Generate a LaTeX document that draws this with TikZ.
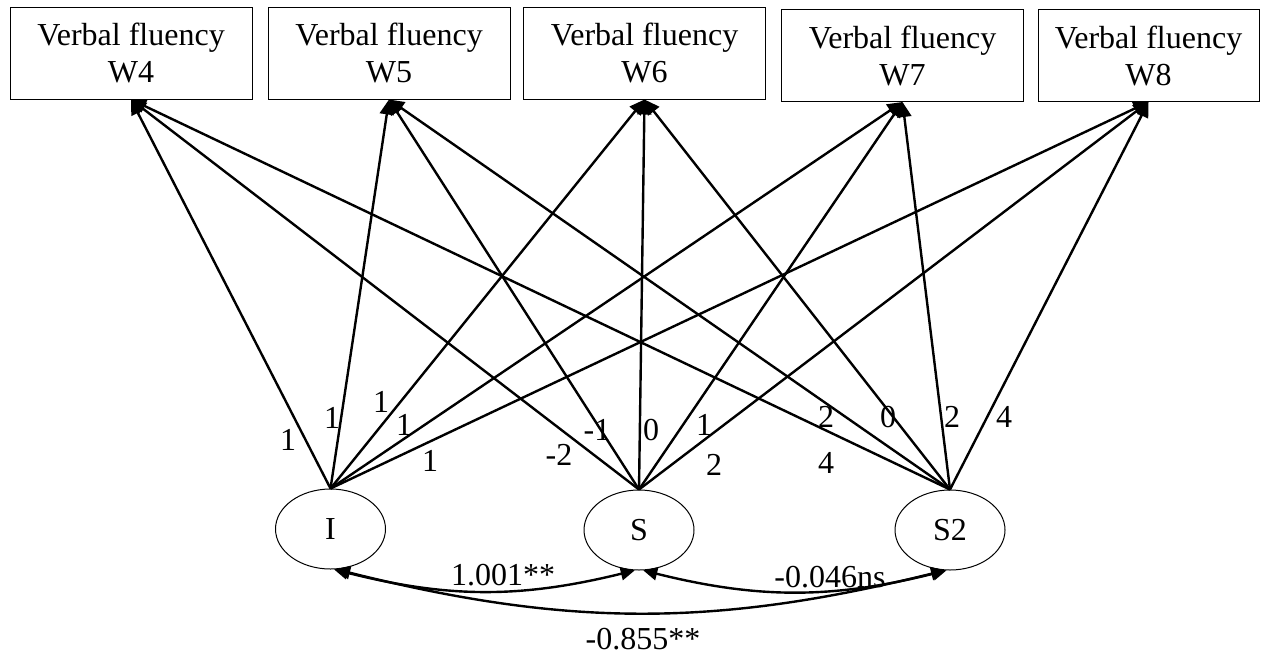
\documentclass[tikz,border=0pt]{standalone}
\usepackage{fontspec}
\setmainfont{Liberation Serif}
\usetikzlibrary{arrows.meta, shapes.geometric}

\tikzset{
	txt/.style={font=\fontsize{16}{18.5}\selectfont},
	obs/.style={txt, draw, line width=0.5pt, minimum width=121pt, minimum height=46pt, inner sep=0pt, align=center},
	lat/.style={txt, draw, ellipse, line width=0.5pt, minimum width=55pt, minimum height=40pt, inner sep=0pt},
	load/.style={line width=1.2pt, -{Triangle[length=7.5pt,width=7pt]}},
	cov/.style={line width=1.2pt, {Triangle[length=7pt,width=6.5pt]}-{Triangle[length=7pt,width=6.5pt]}},
	lbl/.style={txt, inner sep=0pt}
}

\begin{document}
\begin{tikzpicture}[x=0.5pt, y=-0.5pt]
			\useasboundingbox (0,0) rectangle (1267,654);
			% observed waves
			\node[obs] (W4) at (131,53) {Verbal fluency\\W4};
			\node[obs] (W5) at (389,53) {Verbal fluency\\W5};
			\node[obs] (W6) at (644.5,53) {Verbal fluency\\W6};
			\node[obs] (W7) at (902.5,55.5) {Verbal fluency\\W7};
			\node[obs, minimum width=110.5pt] (W8) at (1148.5,55.5) {Verbal fluency\\W8};
			% growth factors
			\node[lat] (I) at (330.5,529) {I};
			\node[lat] (S) at (639,530) {S};
			\node[lat] (S2) at (950,530) {S2};
			% loadings
			\foreach \src/\dst/\lab/\lx/\ly in {
				I/W4/1/288/440, I/W5/1/332/418, I/W6/1/381/402, I/W7/1/404/425, I/W8/1/430/461,
				S/W4/-2/559/455, S/W5/-1/597/430, S/W6/0/651/430, S/W7/1/704/425, S/W8/2/714/465,
				S2/W4/4/826/463, S2/W5/2/826/417, S2/W6/0/888/417, S2/W7/2/952/417, S2/W8/4/1004/417}
			{
				\draw[load] (\src.north) -- (\dst.south);
				\node[lbl] (l\src\dst) at (\lx,\ly) {\lab};
			}
			% covariances
			\draw[cov] (I.-85) to[bend right=14] (S.-96);
			\draw[cov] (S.-84) to[bend right=14] (S2.-95);
			\draw[cov] (I.-82) to[bend right=14] (S2.-97);
			\node[lbl] (cIS) at (503,575) {1.001**};
			\node[lbl] (cSS2) at (830,577) {-0.046ns};
			\node[lbl] (cIS2) at (643,639) {-0.855**};
\end{tikzpicture}
\end{document}
